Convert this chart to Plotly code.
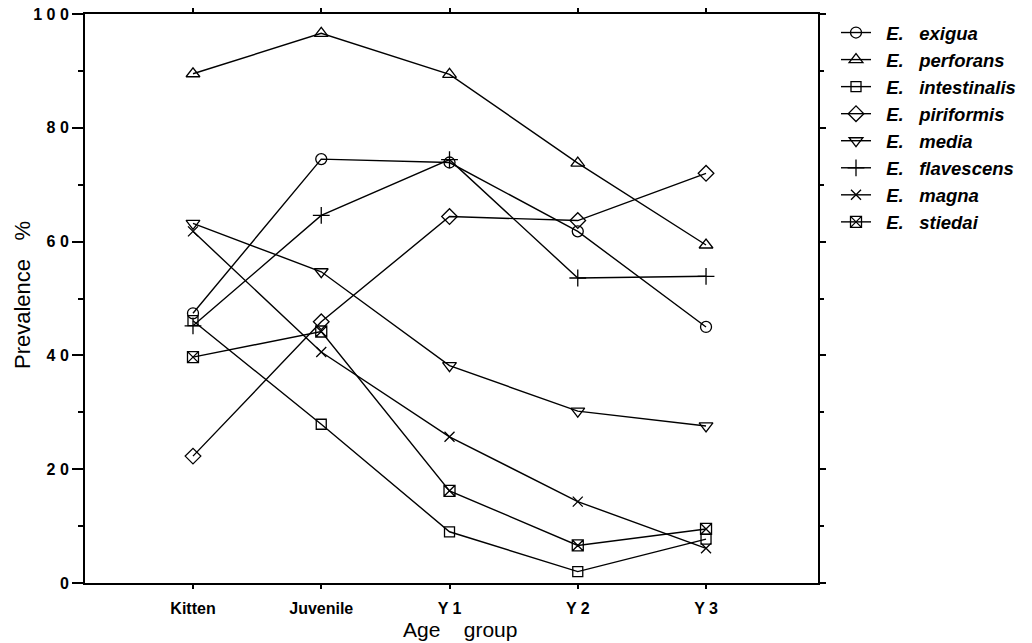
import plotly.graph_objects as go

age_groups = ["Kitten", "Juvenile", "Y1", "Y2", "Y3"]
age_tick_text = ["Kitten", "Juvenile", "Y 1", "Y 2", "Y 3"]

species = ["exigua", "perforans", "intestinalis", "piriformis",
           "media", "flavescens", "magna", "stiedai"]

exigua = [47.4, 74.5, 73.9, 61.8, 45.0]
perforans = [89.5, 96.6, 89.4, 73.8, 59.4]
intestinalis = [46.1, 27.9, 9.0, 2.0, 7.7]
piriformis = [22.3, 45.9, 64.4, 63.7, 72.0]
media = [63.2, 54.7, 38.2, 30.2, 27.6]
flavescens = [45.2, 64.6, 74.4, 53.6, 53.9]
magna = [61.8, 40.6, 25.7, 14.3, 6.1]
stiedai = [39.7, 44.2, 16.2, 6.6, 9.5]

series_values = [exigua, perforans, intestinalis, piriformis,
                 media, flavescens, magna, stiedai]
symbols = ["circle-open", "triangle-up-open", "square-open", "diamond-open",
           "triangle-down-open", "cross-thin-open", "x-thin-open", "square-x-open"]
sizes = [11, 12, 10, 12, 12, 12, 10, 11]

y_tick_vals = [0, 20, 40, 60, 80, 100]
y_tick_text = ["0", "2 0", "4 0", "6 0", "8 0", "1 0 0"]
y_minor_vals = [10, 30, 50, 70, 90]

NB = "\u00a0"

ML, MR, MT, MB = 85, 214, 14, 60
PW = 1032 - ML - MR
PH = 643 - MT - MB

fig = go.Figure()
for name, vals, sym, sz in zip(species, series_values, symbols, sizes):
    fig.add_trace(go.Scatter(
        x=age_groups, y=vals, mode="lines+markers",
        name=NB * 2 + "E." + NB * 3 + name,
        line=dict(color="black", width=1.4),
        marker=dict(symbol=sym, size=sz, color="black",
                    line=dict(color="black", width=1.3)),
    ))

# empty helper trace so the right-hand frame axis is drawn
fig.add_trace(go.Scatter(x=[age_groups[0]], y=[None], yaxis="y2",
                         mode="lines", showlegend=False, hoverinfo="skip"))

fig.update_layout(
    width=1032, height=643,
    margin=dict(l=ML, r=MR, t=MT, b=MB, autoexpand=False),
    paper_bgcolor="white", plot_bgcolor="white",
    font=dict(family="Liberation Sans, Arial, sans-serif", color="black"),
    showlegend=True,
    legend=dict(
        x=1 + 18 / PW, y=1.0, xanchor="left", yanchor="top",
        font=dict(size=18.5, style="italic", weight="bold",
                  family="Liberation Sans, Arial, sans-serif"),
        itemwidth=30, tracegroupgap=0, bgcolor="rgba(0,0,0,0)",
    ),
    annotations=[
        dict(text="Prevalence" + NB * 3 + "%", textangle=-90,
             xref="paper", yref="paper",
             x=(22 - ML) / PW, y=(PH + MT - 295) / PH,
             xanchor="center", yanchor="middle", showarrow=False,
             font=dict(size=22)),
        dict(text="Age" + NB * 4 + "group",
             xref="paper", yref="paper",
             x=(460 - ML) / PW, y=(PH + MT - 629) / PH,
             xanchor="center", yanchor="middle", showarrow=False,
             font=dict(size=21)),
    ],
    yaxis2=dict(
        overlaying="y", side="right", range=[0, 100], automargin=False,
        tickmode="array", tickvals=y_tick_vals, showticklabels=False,
        ticks="outside", ticklen=6, tickwidth=2, tickcolor="black",
        minor=dict(tickmode="array", tickvals=y_minor_vals, ticks="outside",
                   ticklen=4, tickwidth=2, tickcolor="black"),
        showline=True, linecolor="black", linewidth=2,
        showgrid=False, zeroline=False,
    ),
)

fig.update_xaxes(
    type="category", categoryorder="array", categoryarray=age_groups,
    range=[-0.842, 4.873], automargin=False,
    tickmode="array", tickvals=age_groups, ticktext=age_tick_text,
    ticks="outside", ticklen=4, tickwidth=2, tickcolor="black",
    ticklabelstandoff=6,
    showline=True, linecolor="black", linewidth=2, mirror="ticks",
    showgrid=False, zeroline=False,
    tickfont=dict(size=16, weight="bold"),
)
fig.layout.yaxis.update(
    range=[0, 100], automargin=False,
    tickmode="array", tickvals=y_tick_vals, ticktext=y_tick_text,
    ticklabeloverflow="allow",
    ticks="outside", ticklen=11, tickwidth=2, tickcolor="black",
    minor=dict(tickmode="array", tickvals=y_minor_vals, ticks="outside",
               ticklen=5, tickwidth=2, tickcolor="black"),
    showline=True, linecolor="black", linewidth=2, mirror=False,
    showgrid=False, zeroline=False,
    tickfont=dict(size=16, weight="bold"),
)

fig.write_html("out.html",
               config={"displayModeBar": False},
               post_script="document.body.style.margin='0';")
